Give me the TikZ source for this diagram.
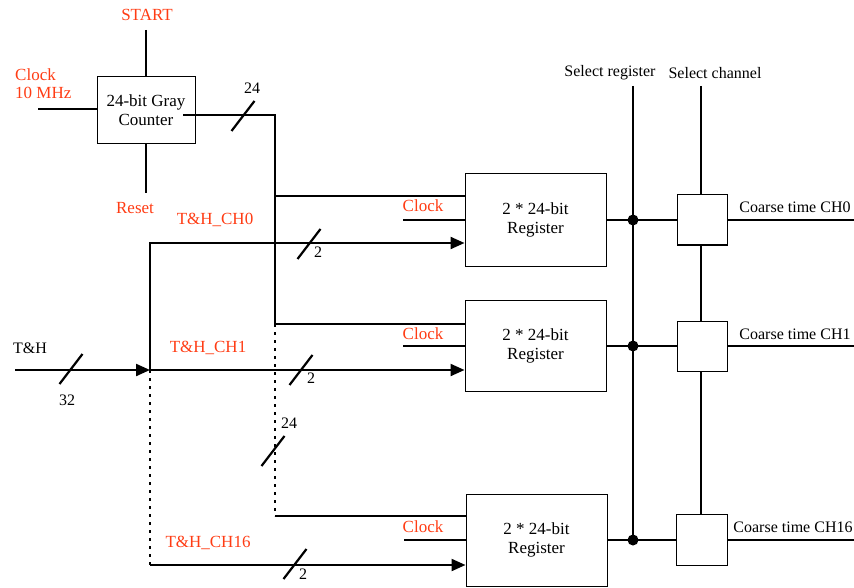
\documentclass[tikz,border=0pt]{standalone}
\usepackage{fontspec}
\setmainfont{Liberation Serif}
\usetikzlibrary{arrows.meta,positioning,calc}
\definecolor{labelred}{RGB}{255,60,20}

\tikzset{
  wire/.style={line width=2.2pt},
  link/.style={wire, dash pattern=on 2.5pt off 5.5pt},
  feed/.style={wire, -{Triangle[length=14pt,width=12pt]}},
  block/.style={draw, line width=1pt, fill=white, align=center, inner sep=0pt,
    font=\fontsize{17}{19}\selectfont},
  junction/.style={circle, fill, inner sep=0pt, minimum size=11pt},
  redlbl/.style={text=labelred, inner sep=0pt, font=\fontsize{17}{18}\selectfont},
  blklbl/.style={inner sep=0pt, font=\fontsize{16}{18}\selectfont},
  busmark/.style={line width=2.2pt}
}
\newcommand{\busslash}[1]{\draw[busmark] ($(#1)+(-11.5,15)$) -- ($(#1)+(11.5,-15)$);}

\begin{document}
\begin{tikzpicture}[x=1pt,y=-1pt]
\useasboundingbox (0,0) rectangle (854,588);

% gray counter
\node[block, minimum width=98pt, minimum height=67pt] (counter) at (146,110.5) {24-bit Gray\\Counter};
\node[redlbl] (start) at (147,15) {START};
\node[redlbl] (reset) at (135,208) {Reset};
\node[redlbl, align=left, anchor=west] (clk) at (15,84) {Clock\\10 MHz};
\coordinate (starttop) at (146,30);
\coordinate (resetbot) at (146,193);
\coordinate (clkin) at (38,109);
\draw[wire] (starttop) -- (starttop |- counter.north);
\draw[wire] (resetbot |- counter.south) -- (resetbot);
\draw[wire] (clkin) -- (clkin -| counter.west);

% registers
\node[block, minimum width=141pt, minimum height=93pt] (reg0) at (535.5,220) {2 * 24-bit\\Register};
\node[block, minimum width=141pt, minimum height=91pt] (reg1) at (535.5,346) {2 * 24-bit\\Register};
\node[block, minimum width=141pt, minimum height=92pt] (reg16) at (536.5,540) {2 * 24-bit\\Register};

% channel selectors
\node[block, minimum size=50pt] (mux0) at (702,220) {};
\node[block, minimum size=50pt] (mux1) at (702,346) {};
\node[block, minimum size=51pt] (mux16) at (702,540) {};
\node[junction] (dot0) at (633,220) {};
\node[junction] (dot1) at (633,346) {};
\node[junction] (dot16) at (633,540) {};

\node[blklbl] (selreglbl) at (610,73) {Select register};
\node[blklbl] (selchlbl) at (715,73) {Select channel};
\coordinate (selreg) at (633,86);
\coordinate (selch) at (701,86);
\draw[wire] (selreg) -- (dot16.center);
\draw[wire] (selch) -- (selch |- mux0.north);
\draw[wire] (selch |- mux0.south) -- (selch |- mux1.north);
\draw[wire] (selch |- mux1.south) -- (selch |- mux16.north);

\draw[wire] (reg0) -- (mux0);
\draw[wire] (reg1) -- (mux1);
\draw[wire] (reg16) -- (mux16);

\coordinate (out0) at (854,220);
\coordinate (out1) at (854,346);
\coordinate (out16) at (854,540);
\draw[wire] (mux0) -- (out0);
\draw[wire] (mux1) -- (out1);
\draw[wire] (mux16) -- (out16);
\node[blklbl] (ct0) at (795,207) {Coarse time CH0};
\node[blklbl] (ct1) at (795,334) {Coarse time CH1};
\node[blklbl] (ct16) at (793,527) {Coarse time CH16};

% register clocks
\coordinate (rclk0) at (403,220);
\coordinate (rclk1) at (403,346);
\coordinate (rclk16) at (404,540);
\draw[wire] (rclk0) -- (reg0);
\draw[wire] (rclk1) -- (reg1);
\draw[wire] (rclk16) -- (reg16);
\node[redlbl] (clk0) at (423,206) {Clock};
\node[redlbl] (clk1) at (423,334) {Clock};
\node[redlbl] (clk16) at (423,527) {Clock};

% counter bus
\coordinate (cstart) at (183,115);
\coordinate (cbus) at (275,115);
\coordinate (tap0) at (275,196);
\coordinate (tap1) at (275,324);
\coordinate (tap16) at (275,516);
\draw[wire] (cstart) -- (cbus) -- (tap1) -- (tap1 -| reg1.west);
\draw[wire] (tap0) -- (tap0 -| reg0.west);
\draw[link] (tap1) -- (tap16);
\draw[wire] (tap16) -- (tap16 -| reg16.west);
\busslash{243,116}
\node[blklbl] (w24a) at (252,88) {24};
\busslash{273,451}
\node[blklbl] (w24b) at (289,423) {24};

% track and hold
\node[blklbl] (th) at (30,348) {T\&H};
\coordinate (thin) at (15,370);
\coordinate (thsplit) at (150,370);
\coordinate (thtop) at (150,243);
\coordinate (thbot) at (150,565);
\draw[feed] (thin) -- (thsplit);
\draw[feed] (thsplit) -- (thtop) -- (thtop -| reg0.west);
\draw[feed] (thsplit) -- (thsplit -| reg1.west);
\draw[link] (thsplit) -- (thbot);
\draw[feed] (thbot) -- (thbot -| reg16.west);
\busslash{71,369}
\node[blklbl] (w32) at (67,400) {32};
\node[redlbl] (ch0) at (215,220) {T\&H\_CH0};
\node[redlbl] (ch1) at (208,348) {T\&H\_CH1};
\node[redlbl] (ch16) at (208,543) {T\&H\_CH16};
\busslash{309,244}
\node[blklbl] (w2a) at (318,252) {2};
\busslash{301,370}
\node[blklbl] (w2b) at (311,378) {2};
\busslash{295,564}
\node[blklbl] (w2c) at (303,574) {2};
\end{tikzpicture}
\end{document}
